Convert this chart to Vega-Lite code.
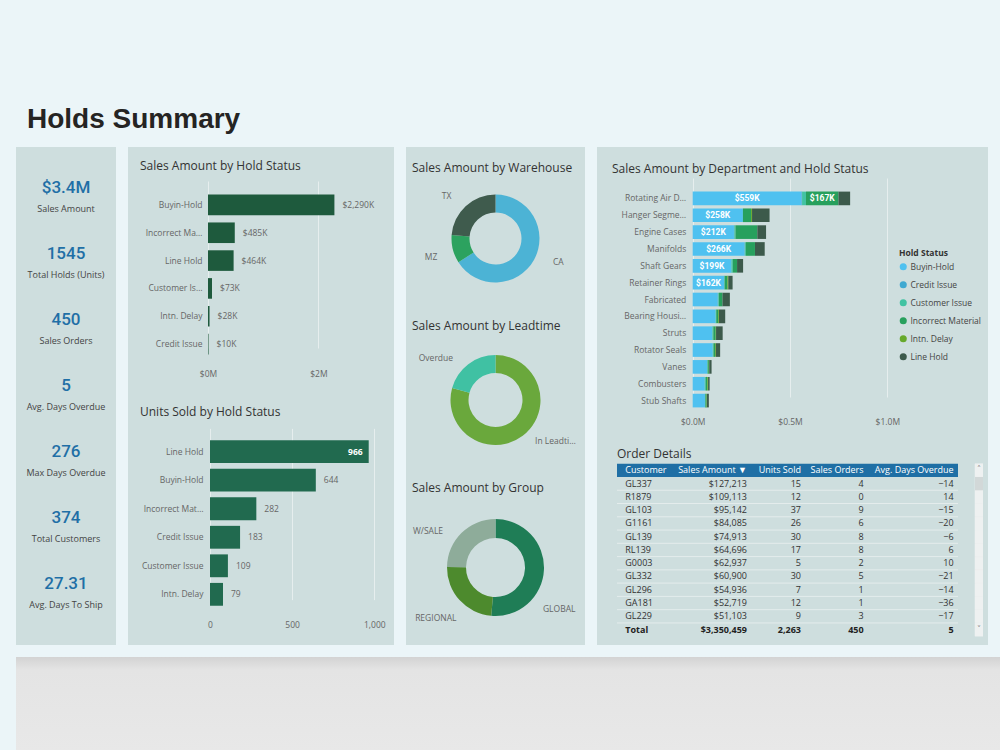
{
  "$schema": "https://vega.github.io/schema/vega-lite/v6.json",
  "background": "#ebf5f8",
  "padding": {"top": 106, "left": 16, "right": 0, "bottom": 0},
  "title": {"text": "Holds Summary", "anchor": "start", "frame": "group", "dx": 11, "offset": 13, "fontSize": 28, "font": "Liberation Sans", "fontWeight": "bold", "color": "#252423"},
  "config": {
    "view": {"stroke": null},
    "font": "Open Sans",
    "title": {"anchor": "start", "frame": "group", "font": "Open Sans", "fontSize": 12, "fontWeight": "normal", "color": "#333333"},
    "axis": {"labelFont": "Open Sans", "labelFontSize": 8.5, "labelColor": "#666666", "ticks": false, "domain": false, "labelFlush": false},
    "axisX": {"grid": true, "gridColor": "#e6eeee", "gridWidth": 1},
    "axisY": {"grid": false},
    "text": {"font": "Open Sans"}
  },
  "spacing": 12,
  "resolve": {"scale": {"x": "independent", "y": "independent", "color": "independent", "theta": "independent"}},
  "vconcat": [
    {
      "spacing": 12,
      "resolve": {"scale": {"x": "independent", "y": "independent", "color": "independent", "theta": "independent"}},
      "hconcat": [
        {
          "width": 100, "height": 498,
          "view": {"fill": "#cedede", "stroke": null},
          "data": {"values": [
            {"metric": "Sales Amount", "value": "$3.4M"},
            {"metric": "Total Holds (Units)", "value": "1545"},
            {"metric": "Sales Orders", "value": "450"},
            {"metric": "Avg. Days Overdue", "value": "5"},
            {"metric": "Max Days Overdue", "value": "276"},
            {"metric": "Total Customers", "value": "374"},
            {"metric": "Avg. Days To Ship", "value": "27.31"}
          ]},
          "encoding": {
            "y": {"field": "metric", "type": "nominal", "sort": null, "scale": {"type": "point", "range": [51, 447], "padding": 0}, "axis": null}
          },
          "layer": [
            {"mark": {"type": "text", "font": "Roboto", "fontSize": 17, "fontWeight": 500, "color": "#1f6fa6", "dy": -10, "baseline": "middle"}, "encoding": {"text": {"field": "value"}}},
            {"mark": {"type": "text", "fontSize": 9, "color": "#444444", "dy": 11, "baseline": "middle"}, "encoding": {"text": {"field": "metric"}}}
          ]
        },
        {
          "spacing": 0,
          "bounds": "flush",
          "resolve": {"scale": {"x": "independent", "y": "independent"}},
          "vconcat": [
            {
              "width": 266, "height": 245,
              "view": {"fill": "#cedede", "stroke": null},
              "title": {"text": "Sales Amount by Hold Status", "offset": -26, "dx": 12},
              "data": {"values": [
                {"status": "Buyin-Hold", "amount": 2290000, "label": "$2,290K"},
                {"status": "Incorrect Material", "amount": 485000, "label": "$485K"},
                {"status": "Line Hold", "amount": 464000, "label": "$464K"},
                {"status": "Customer Issue", "amount": 73000, "label": "$73K"},
                {"status": "Intn. Delay", "amount": 28000, "label": "$28K"},
                {"status": "Credit Issue", "amount": 10000, "label": "$10K"}
              ]},
              "encoding": {
                "y": {"field": "status", "type": "nominal", "sort": ["Buyin-Hold", "Incorrect Material", "Line Hold", "Customer Issue", "Intn. Delay", "Credit Issue"], "scale": {"range": [44, 211], "paddingInner": 0.26, "paddingOuter": 0.13}, "axis": {"title": null, "offset": -80, "labelPadding": 6, "labelLimit": 58}},
                "x": {"field": "amount", "type": "quantitative", "scale": {"domain": [0, 2500000], "range": [80, 218]}, "axis": {"title": null, "values": [0, 2000000], "labelExpr": "'$' + datum.value / 1000000 + 'M'", "offset": -25, "labelPadding": 2}}
              },
              "layer": [
                {"mark": {"type": "bar", "color": "#1e5a3d"}},
                {"mark": {"type": "text", "align": "left", "dx": 8, "fontSize": 8.5, "color": "#666666"}, "encoding": {"text": {"field": "label"}}}
              ]
            },
            {
              "width": 266, "height": 253,
              "view": {"fill": "#cedede", "stroke": null},
              "title": {"text": "Units Sold by Hold Status", "offset": -27, "dx": 12},
              "data": {"values": [
                {"status": "Line Hold", "units": 966},
                {"status": "Buyin-Hold", "units": 644},
                {"status": "Incorrect Material", "units": 282},
                {"status": "Credit Issue", "units": 183},
                {"status": "Customer Issue", "units": 109},
                {"status": "Intn. Delay", "units": 79}
              ]},
              "encoding": {
                "y": {"field": "status", "type": "nominal", "sort": ["Line Hold", "Buyin-Hold", "Incorrect Material", "Credit Issue", "Customer Issue", "Intn. Delay"], "scale": {"range": [45.4, 216.6], "paddingInner": 0.2, "paddingOuter": 0.1}, "axis": {"title": null, "offset": -82, "labelPadding": 7, "labelLimit": 62}},
                "x": {"field": "units", "type": "quantitative", "scale": {"domain": [0, 1000], "range": [82, 246.3]}, "axis": {"title": null, "values": [0, 500, 1000], "format": ",d", "offset": -26.5, "labelPadding": 2}}
              },
              "layer": [
                {"mark": {"type": "bar", "color": "#216a4f"}},
                {"transform": [{"filter": "datum.units < 900"}], "mark": {"type": "text", "align": "left", "dx": 8, "fontSize": 8.5, "color": "#666666"}, "encoding": {"text": {"field": "units"}}},
                {"transform": [{"filter": "datum.units >= 900"}], "mark": {"type": "text", "align": "right", "dx": -6, "fontSize": 8.5, "fontWeight": "bold", "color": "#ffffff"}, "encoding": {"text": {"field": "units"}}}
              ]
            }
          ]
        },
        {
          "spacing": 0,
          "bounds": "flush",
          "resolve": {"scale": {"color": "independent", "theta": "independent"}},
          "vconcat": [
            {
              "width": 179, "height": 163,
              "view": {"fill": "#cedede", "stroke": null},
              "title": {"text": "Sales Amount by Warehouse", "offset": -28, "dx": 6},
              "data": {"values": [
                {"warehouse": "CA", "amount": 2211000},
                {"warehouse": "MZ", "amount": 345000},
                {"warehouse": "TX", "amount": 797000}
              ]},
              "encoding": {"theta": {"field": "amount", "type": "quantitative", "stack": true}, "detail": {"field": "warehouse"}},
              "layer": [
                {"mark": {"type": "arc", "innerRadius": 26, "outerRadius": 44, "yOffset": 10}, "encoding": {"color": {"field": "warehouse", "type": "nominal", "scale": {"domain": ["CA", "MZ", "TX"], "range": ["#4cb3d5", "#2ca25f", "#3f5b4d"]}, "legend": null}}},
                {"mark": {"type": "text", "align": "left", "radius": 62, "thetaOffset": -0.115, "yOffset": 10, "fontSize": 8.5, "color": "#666666"}, "encoding": {"text": {"condition": {"test": "datum.warehouse == 'CA'", "field": "warehouse"}, "value": ""}}},
                {"mark": {"type": "text", "align": "right", "radius": 61, "thetaOffset": -0.06, "yOffset": 10, "fontSize": 8.5, "color": "#666666"}, "encoding": {"text": {"condition": {"test": "datum.warehouse != 'CA'", "field": "warehouse"}, "value": ""}}}
              ]
            },
            {
              "width": 179, "height": 162,
              "view": {"fill": "#cedede", "stroke": null},
              "title": {"text": "Sales Amount by Leadtime", "offset": -23, "dx": 6},
              "data": {"values": [
                {"leadtime": "In Leadtime", "amount": 2657000},
                {"leadtime": "Overdue", "amount": 693000}
              ]},
              "encoding": {"theta": {"field": "amount", "type": "quantitative", "stack": true}, "detail": {"field": "leadtime"}},
              "layer": [
                {"mark": {"type": "arc", "innerRadius": 27, "outerRadius": 45, "yOffset": 9}, "encoding": {"color": {"field": "leadtime", "type": "nominal", "scale": {"domain": ["In Leadtime", "Overdue"], "range": ["#6aa83c", "#40c1a3"]}, "legend": null}}},
                {"mark": {"type": "text", "align": "left", "radius": 57, "thetaOffset": -0.117, "yOffset": 9, "fontSize": 8.5, "color": "#666666", "limit": 44}, "encoding": {"text": {"condition": {"test": "datum.leadtime == 'In Leadtime'", "field": "leadtime"}, "value": ""}}},
                {"mark": {"type": "text", "align": "right", "radius": 60, "thetaOffset": -0.136, "yOffset": 9, "fontSize": 8.5, "color": "#666666"}, "encoding": {"text": {"condition": {"test": "datum.leadtime == 'Overdue'", "field": "leadtime"}, "value": ""}}}
              ]
            },
            {
              "width": 179, "height": 173,
              "view": {"fill": "#cedede", "stroke": null},
              "title": {"text": "Sales Amount by Group", "offset": -23, "dx": 6},
              "data": {"values": [
                {"group": "GLOBAL", "amount": 1722000},
                {"group": "REGIONAL", "amount": 797000},
                {"group": "W/SALE", "amount": 831000}
              ]},
              "encoding": {"theta": {"field": "amount", "type": "quantitative", "stack": true}, "detail": {"field": "group"}},
              "layer": [
                {"mark": {"type": "arc", "innerRadius": 29.5, "outerRadius": 48.5, "yOffset": 9}, "encoding": {"color": {"field": "group", "type": "nominal", "scale": {"domain": ["GLOBAL", "REGIONAL", "W/SALE"], "range": ["#1f7d56", "#4d8a2d", "#8eac9a"]}, "legend": null}}},
                {"mark": {"type": "text", "align": "left", "radius": 63, "thetaOffset": 0.674, "yOffset": 9, "fontSize": 8.5, "color": "#666666"}, "encoding": {"text": {"condition": {"test": "datum.group == 'GLOBAL'", "field": "group"}, "value": ""}}},
                {"mark": {"type": "text", "align": "right", "radius": 64, "thetaOffset": -0.18, "yOffset": 9, "fontSize": 8.5, "color": "#666666"}, "encoding": {"text": {"condition": {"test": "datum.group != 'GLOBAL'", "field": "group"}, "value": ""}}}
              ]
            }
          ]
        },
        {
          "spacing": 0,
          "resolve": {"scale": {"x": "independent", "y": "independent", "color": "independent"}},
          "vconcat": [
            {
              "width": 391, "height": 293,
              "view": {"fill": "#cedede", "stroke": null},
              "title": {"text": "Sales Amount by Department and Hold Status", "offset": -29, "dx": 15},
              "data": {"values": [
                {"dept": "Rotating Air Ducts", "status": "Buyin-Hold", "amount": 559, "label": "$559K"},
                {"dept": "Rotating Air Ducts", "status": "Credit Issue", "amount": 3},
                {"dept": "Rotating Air Ducts", "status": "Customer Issue", "amount": 20},
                {"dept": "Rotating Air Ducts", "status": "Incorrect Material", "amount": 167, "label": "$167K"},
                {"dept": "Rotating Air Ducts", "status": "Line Hold", "amount": 60},
                {"dept": "Hanger Segments", "status": "Buyin-Hold", "amount": 258, "label": "$258K"},
                {"dept": "Hanger Segments", "status": "Incorrect Material", "amount": 42},
                {"dept": "Hanger Segments", "status": "Intn. Delay", "amount": 5},
                {"dept": "Hanger Segments", "status": "Line Hold", "amount": 90},
                {"dept": "Engine Cases", "status": "Buyin-Hold", "amount": 212, "label": "$212K"},
                {"dept": "Engine Cases", "status": "Credit Issue", "amount": 2},
                {"dept": "Engine Cases", "status": "Customer Issue", "amount": 6},
                {"dept": "Engine Cases", "status": "Incorrect Material", "amount": 112},
                {"dept": "Engine Cases", "status": "Line Hold", "amount": 45},
                {"dept": "Manifolds", "status": "Buyin-Hold", "amount": 266, "label": "$266K"},
                {"dept": "Manifolds", "status": "Credit Issue", "amount": 2},
                {"dept": "Manifolds", "status": "Customer Issue", "amount": 5},
                {"dept": "Manifolds", "status": "Incorrect Material", "amount": 47},
                {"dept": "Manifolds", "status": "Line Hold", "amount": 50},
                {"dept": "Shaft Gears", "status": "Buyin-Hold", "amount": 199, "label": "$199K"},
                {"dept": "Shaft Gears", "status": "Customer Issue", "amount": 7},
                {"dept": "Shaft Gears", "status": "Incorrect Material", "amount": 22},
                {"dept": "Shaft Gears", "status": "Line Hold", "amount": 31},
                {"dept": "Retainer Rings", "status": "Buyin-Hold", "amount": 162, "label": "$162K"},
                {"dept": "Retainer Rings", "status": "Customer Issue", "amount": 2},
                {"dept": "Retainer Rings", "status": "Incorrect Material", "amount": 14},
                {"dept": "Retainer Rings", "status": "Intn. Delay", "amount": 5},
                {"dept": "Retainer Rings", "status": "Line Hold", "amount": 22},
                {"dept": "Fabricated", "status": "Buyin-Hold", "amount": 128},
                {"dept": "Fabricated", "status": "Credit Issue", "amount": 3},
                {"dept": "Fabricated", "status": "Customer Issue", "amount": 4},
                {"dept": "Fabricated", "status": "Incorrect Material", "amount": 18},
                {"dept": "Fabricated", "status": "Line Hold", "amount": 38},
                {"dept": "Bearing Housings", "status": "Buyin-Hold", "amount": 118},
                {"dept": "Bearing Housings", "status": "Customer Issue", "amount": 3},
                {"dept": "Bearing Housings", "status": "Incorrect Material", "amount": 10},
                {"dept": "Bearing Housings", "status": "Intn. Delay", "amount": 4},
                {"dept": "Bearing Housings", "status": "Line Hold", "amount": 32},
                {"dept": "Struts", "status": "Buyin-Hold", "amount": 101},
                {"dept": "Struts", "status": "Customer Issue", "amount": 5},
                {"dept": "Struts", "status": "Incorrect Material", "amount": 12},
                {"dept": "Struts", "status": "Intn. Delay", "amount": 2},
                {"dept": "Struts", "status": "Line Hold", "amount": 34},
                {"dept": "Rotator Seals", "status": "Buyin-Hold", "amount": 103},
                {"dept": "Rotator Seals", "status": "Customer Issue", "amount": 4},
                {"dept": "Rotator Seals", "status": "Incorrect Material", "amount": 8},
                {"dept": "Rotator Seals", "status": "Intn. Delay", "amount": 4},
                {"dept": "Rotator Seals", "status": "Line Hold", "amount": 22},
                {"dept": "Vanes", "status": "Buyin-Hold", "amount": 75},
                {"dept": "Vanes", "status": "Customer Issue", "amount": 2},
                {"dept": "Vanes", "status": "Incorrect Material", "amount": 6},
                {"dept": "Vanes", "status": "Intn. Delay", "amount": 2},
                {"dept": "Vanes", "status": "Line Hold", "amount": 12},
                {"dept": "Combusters", "status": "Buyin-Hold", "amount": 62},
                {"dept": "Combusters", "status": "Customer Issue", "amount": 5},
                {"dept": "Combusters", "status": "Incorrect Material", "amount": 8},
                {"dept": "Combusters", "status": "Intn. Delay", "amount": 4},
                {"dept": "Combusters", "status": "Line Hold", "amount": 8},
                {"dept": "Stub Shafts", "status": "Buyin-Hold", "amount": 63},
                {"dept": "Stub Shafts", "status": "Customer Issue", "amount": 2},
                {"dept": "Stub Shafts", "status": "Incorrect Material", "amount": 6},
                {"dept": "Stub Shafts", "status": "Intn. Delay", "amount": 2},
                {"dept": "Stub Shafts", "status": "Line Hold", "amount": 10}
              ]},
              "encoding": {
                "y": {"field": "dept", "type": "nominal", "sort": ["Rotating Air Ducts", "Hanger Segments", "Engine Cases", "Manifolds", "Shaft Gears", "Retainer Rings", "Fabricated", "Bearing Housings", "Struts", "Rotator Seals", "Vanes", "Combusters", "Stub Shafts"], "scale": {"range": [43, 262], "paddingInner": 0.19, "paddingOuter": 0.095}, "axis": {"title": null, "offset": -95.7, "labelPadding": 7, "labelLimit": 66}},
                "x": {"field": "amount", "type": "quantitative", "stack": "zero", "scale": {"domain": [0, 1000], "range": [95.7, 290.3]}, "axis": {"title": null, "values": [0, 500, 1000], "labelExpr": "'$' + format(datum.value / 1000, '.1f') + 'M'", "offset": -25, "labelPadding": 2}},
                "order": {"field": "status", "sort": "ascending"}
              },
              "layer": [
                {"mark": {"type": "bar"}, "encoding": {"color": {"field": "status", "type": "nominal", "scale": {"domain": ["Buyin-Hold", "Credit Issue", "Customer Issue", "Incorrect Material", "Intn. Delay", "Line Hold"], "range": ["#4fc1f0", "#3fa9d1", "#41c3a2", "#27a05d", "#66a92b", "#3c5a4b"]}, "legend": {"orient": "none", "legendX": 302, "legendY": 102, "title": "Hold Status", "titleFont": "Open Sans", "titleFontSize": 8.5, "titleFontWeight": "bold", "titleColor": "#333333", "titlePadding": 5, "labelFont": "Open Sans", "labelFontSize": 8.5, "labelColor": "#444444", "symbolType": "circle", "symbolSize": 50, "symbolStrokeWidth": 0, "rowPadding": 9, "labelOffset": 3}}}},
                {"mark": {"type": "text", "color": "#ffffff", "fontWeight": "bold", "fontSize": 8.5, "font": "Roboto"}, "encoding": {"x": {"field": "amount", "type": "quantitative", "stack": "zero", "bandPosition": 0.5}, "detail": {"field": "status"}, "text": {"condition": {"test": "datum.amount >= 150", "field": "label"}, "value": ""}}}
              ]
            },
            {
              "spacing": 0,
              "bounds": "flush",
              "hconcat": [
                {"width": 20, "height": 205, "view": {"fill": "#cedede", "stroke": null}, "data": {"values": []}, "mark": "point", "encoding": {}},
                {
                  "width": 341, "height": 205,
                  "view": {"fill": "#cedede", "stroke": null},
                  "title": {"text": "Order Details", "offset": -21, "dx": 0},
                  "data": {"values": [
                    {"customer": "GL337", "sales": 127213, "units": 15, "orders": 4, "overdue": -14},
                    {"customer": "R1879", "sales": 109113, "units": 12, "orders": 0, "overdue": 14},
                    {"customer": "GL103", "sales": 95142, "units": 37, "orders": 9, "overdue": -15},
                    {"customer": "G1161", "sales": 84085, "units": 26, "orders": 6, "overdue": -20},
                    {"customer": "GL139", "sales": 74913, "units": 30, "orders": 8, "overdue": -6},
                    {"customer": "RL139", "sales": 64696, "units": 17, "orders": 8, "overdue": 6},
                    {"customer": "G0003", "sales": 62937, "units": 5, "orders": 2, "overdue": 10},
                    {"customer": "GL332", "sales": 60900, "units": 30, "orders": 5, "overdue": -21},
                    {"customer": "GL296", "sales": 54936, "units": 7, "orders": 1, "overdue": -14},
                    {"customer": "GA181", "sales": 52719, "units": 12, "orders": 1, "overdue": -36},
                    {"customer": "GL229", "sales": 51103, "units": 9, "orders": 3, "overdue": -17},
                    {"customer": "Total", "sales": 3350459, "units": 2263, "orders": 450, "overdue": 5}
                  ]},
                  "encoding": {
                    "y": {"field": "customer", "type": "nominal", "scale": {"domain": ["Header", "GL337", "R1879", "GL103", "G1161", "GL139", "RL139", "G0003", "GL332", "GL296", "GA181", "GL229", "Total"], "range": [23.7, 196.2], "paddingInner": 0, "paddingOuter": 0}, "axis": null}
                  },
                  "layer": [
                    {"data": {"values": [{"customer": "Header"}]}, "mark": {"type": "bar", "color": "#1f6fa5"}},
                    {"transform": [{"filter": "datum.customer != 'Total'"}], "mark": {"type": "rule", "color": "#e4ecec", "strokeWidth": 1}, "encoding": {"y": {"field": "customer", "type": "nominal", "bandPosition": 1}}},
                    {"data": {"values": [{"customer": "Header"}]}, "mark": {"type": "text", "align": "left", "dx": -25.8, "fontSize": 9, "color": "#ffffff"}, "encoding": {"x": {"datum": "Customer", "type": "nominal", "scale": {"domain": ["Customer", "Sales Amount", "Units Sold", "Sales Orders", "Avg. Days Overdue"], "paddingInner": 0, "paddingOuter": 0}, "axis": null}, "text": {"value": "Customer"}}},
                    {"data": {"values": [{"customer": "Header"}]}, "mark": {"type": "text", "align": "right", "dx": 27.7, "fontSize": 9, "color": "#ffffff"}, "encoding": {"x": {"datum": "Sales Amount", "type": "nominal", "axis": null}, "text": {"value": "Sales Amount ▼"}}},
                    {"data": {"values": [{"customer": "Header"}]}, "mark": {"type": "text", "align": "right", "dx": 13.5, "fontSize": 9, "color": "#ffffff"}, "encoding": {"x": {"datum": "Units Sold", "type": "nominal", "axis": null}, "text": {"value": "Units Sold"}}},
                    {"data": {"values": [{"customer": "Header"}]}, "mark": {"type": "text", "align": "right", "dx": 7.9, "fontSize": 9, "color": "#ffffff"}, "encoding": {"x": {"datum": "Sales Orders", "type": "nominal", "axis": null}, "text": {"value": "Sales Orders"}}},
                    {"data": {"values": [{"customer": "Header"}]}, "mark": {"type": "text", "align": "right", "dx": 29.7, "fontSize": 9, "color": "#ffffff"}, "encoding": {"x": {"datum": "Avg. Days Overdue", "type": "nominal", "axis": null}, "text": {"value": "Avg. Days Overdue"}}},
                    {"transform": [{"filter": "datum.customer != 'Total'"}], "mark": {"type": "text", "align": "left", "dx": -25.8, "fontSize": 9, "color": "#333333"}, "encoding": {"x": {"datum": "Customer", "type": "nominal", "axis": null}, "text": {"field": "customer"}}},
                    {"transform": [{"filter": "datum.customer != 'Total'"}], "mark": {"type": "text", "align": "right", "dx": 27.7, "fontSize": 9, "color": "#333333"}, "encoding": {"x": {"datum": "Sales Amount", "type": "nominal", "axis": null}, "text": {"field": "sales", "format": "$,d"}}},
                    {"transform": [{"filter": "datum.customer != 'Total'"}], "mark": {"type": "text", "align": "right", "dx": 13.5, "fontSize": 9, "color": "#333333"}, "encoding": {"x": {"datum": "Units Sold", "type": "nominal", "axis": null}, "text": {"field": "units", "format": ",d"}}},
                    {"transform": [{"filter": "datum.customer != 'Total'"}], "mark": {"type": "text", "align": "right", "dx": 7.9, "fontSize": 9, "color": "#333333"}, "encoding": {"x": {"datum": "Sales Orders", "type": "nominal", "axis": null}, "text": {"field": "orders", "format": ",d"}}},
                    {"transform": [{"filter": "datum.customer != 'Total'"}], "mark": {"type": "text", "align": "right", "dx": 29.7, "fontSize": 9, "color": "#333333"}, "encoding": {"x": {"datum": "Avg. Days Overdue", "type": "nominal", "axis": null}, "text": {"field": "overdue", "format": "d"}}},
                    {"transform": [{"filter": "datum.customer == 'Total'"}], "mark": {"type": "text", "align": "left", "dx": -25.8, "fontSize": 9, "fontWeight": "bold", "color": "#222222"}, "encoding": {"x": {"datum": "Customer", "type": "nominal", "axis": null}, "text": {"field": "customer"}}},
                    {"transform": [{"filter": "datum.customer == 'Total'"}], "mark": {"type": "text", "align": "right", "dx": 27.7, "fontSize": 9, "fontWeight": "bold", "color": "#222222"}, "encoding": {"x": {"datum": "Sales Amount", "type": "nominal", "axis": null}, "text": {"field": "sales", "format": "$,d"}}},
                    {"transform": [{"filter": "datum.customer == 'Total'"}], "mark": {"type": "text", "align": "right", "dx": 13.5, "fontSize": 9, "fontWeight": "bold", "color": "#222222"}, "encoding": {"x": {"datum": "Units Sold", "type": "nominal", "axis": null}, "text": {"field": "units", "format": ",d"}}},
                    {"transform": [{"filter": "datum.customer == 'Total'"}], "mark": {"type": "text", "align": "right", "dx": 7.9, "fontSize": 9, "fontWeight": "bold", "color": "#222222"}, "encoding": {"x": {"datum": "Sales Orders", "type": "nominal", "axis": null}, "text": {"field": "orders", "format": ",d"}}},
                    {"transform": [{"filter": "datum.customer == 'Total'"}], "mark": {"type": "text", "align": "right", "dx": 29.7, "fontSize": 9, "fontWeight": "bold", "color": "#222222"}, "encoding": {"x": {"datum": "Avg. Days Overdue", "type": "nominal", "axis": null}, "text": {"field": "overdue", "format": "d"}}}
                  ]
                },
                {"width": 17, "height": 205, "view": {"fill": "#cedede", "stroke": null}, "data": {"values": []}, "mark": "point", "encoding": {}},
                {
                  "width": 8, "height": 205,
                  "view": {"fill": "#cedede", "stroke": null},
                  "data": {"values": [
                    {"row": "Header", "arrow": "˄"}, {"row": "GL337"}, {"row": "R1879"}, {"row": "GL103"}, {"row": "G1161"}, {"row": "GL139"}, {"row": "RL139"},
                    {"row": "G0003"}, {"row": "GL332"}, {"row": "GL296"}, {"row": "GA181"}, {"row": "GL229"}, {"row": "Total", "arrow": "˅"}
                  ]},
                  "encoding": {
                    "y": {"field": "row", "type": "nominal", "scale": {"domain": ["Header", "GL337", "R1879", "GL103", "G1161", "GL139", "RL139", "G0003", "GL332", "GL296", "GA181", "GL229", "Total"], "range": [23.7, 196.2], "paddingInner": 0, "paddingOuter": 0}, "axis": null}
                  },
                  "layer": [
                    {"mark": {"type": "bar", "color": "#eef1f1", "stroke": "#eef1f1", "strokeWidth": 0.5}},
                    {"transform": [{"filter": "datum.row == 'GL337'"}], "mark": {"type": "bar", "color": "#d2d8d8"}},
                    {"transform": [{"filter": "isValid(datum.arrow)"}], "mark": {"type": "text", "fontSize": 8, "color": "#8a8a8a", "font": "DejaVu Sans"}, "encoding": {"text": {"field": "arrow"}}}
                  ]
                },
                {"width": 5, "height": 205, "view": {"fill": "#cedede", "stroke": null}, "data": {"values": []}, "mark": "point", "encoding": {}}
              ]
            }
          ]
        }
      ]
    },
    {
      "width": 984, "height": 93,
      "view": {"fill": {"gradient": "linear", "x1": 0, "y1": 0, "x2": 0, "y2": 1, "stops": [{"offset": 0, "color": "#d3d3d3"}, {"offset": 0.14, "color": "#e4e4e4"}, {"offset": 1, "color": "#e8e8e8"}]}, "stroke": null},
      "data": {"values": []},
      "mark": "point",
      "encoding": {}
    }
  ]
}
